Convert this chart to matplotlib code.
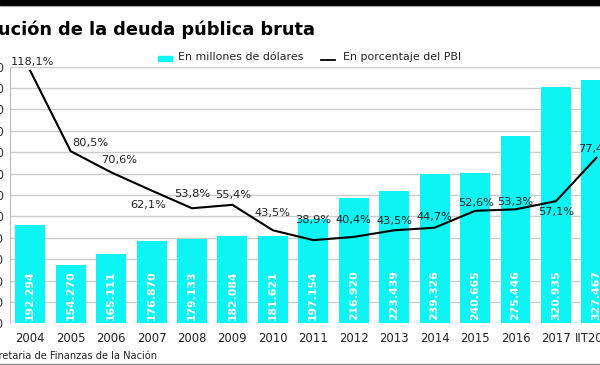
import matplotlib
matplotlib.use("Agg")
import matplotlib.pyplot as plt
from matplotlib.patches import Rectangle
from matplotlib.lines import Line2D
import numpy as np

# datos
anios = ['2004', '2005', '2006', '2007', '2008', '2009', '2010', '2011',
         '2012', '2013', '2014', '2015', '2016', '2017', 'IIT2018']
deuda_millones = [192294, 154270, 165111, 176870, 179133, 182084, 181621, 197154,
                  216920, 223439, 239326, 240665, 275446, 320935, 327467]
deuda_pbi = [118.1, 80.5, 70.6, 62.1, 53.8, 55.4, 43.5, 38.9,
             40.4, 43.5, 44.7, 52.6, 53.3, 57.1, 77.4]

# desplazamiento de cada etiqueta de porcentaje (pixeles)
offsets_pct = [(2, 9), (20, 8), (8, 12), (-3, -14), (0, 14), (1, 10), (0, 17), (0, 20),
               (0, 17), (0, 9), (0, 11), (1, 8), (0, 7), (0, -11), (0, 9)]

CIAN = '#0cf4f4'
W, H = 600, 365

def fmt_miles(v):
    return "{:,}".format(int(v)).replace(",", ".")

def fmt_pct(v):
    return "{:.1f}%".format(v).replace(".", ",")

fig = plt.figure(figsize=(W / 100, H / 100), dpi=100)

# ejes (parte del grafico queda fuera del lienzo, como en el recorte original)
ax = fig.add_axes([10 / W, 1 - 323.3 / H, 606.6 / W, 256.6 / H])
x = np.arange(len(anios))
ax.bar(x, deuda_millones, width=0.74, color=CIAN, zorder=2)
ax.set_xlim(-0.5, len(anios) - 0.5)
ax.set_ylim(100000, 340000)
ax.set_yticks(np.arange(100000, 340001, 20000))
ax.set_yticklabels([fmt_miles(v) for v in ax.get_yticks()])
ax.set_xticks(x)
ax.set_xticklabels(anios)
ax.tick_params(axis='y', length=0, pad=4.3, labelsize=8.4, labelcolor='#333333')
ax.tick_params(axis='x', length=0, pad=6.0, labelsize=8.4, labelcolor='#222222')
ax.grid(axis='y', color='#cccccc', lw=1.0)
ax.set_axisbelow(True)
for s in ['top', 'right', 'bottom']:
    ax.spines[s].set_visible(False)
ax.spines['left'].set_color('#bbbbbb')

for xi, v in zip(x, deuda_millones):
    ax.annotate(fmt_miles(v), (xi, 100000), xytext=(0, 3), textcoords='offset pixels',
                rotation=90, ha='center', va='bottom', color='white',
                fontsize=7.8, fontweight='bold', zorder=3)

# linea del porcentaje del PBI
ax2 = ax.twinx()
ax2.set_ylim(0, 120)
ax2.plot(x, deuda_pbi, color='black', lw=1.5)
ax2.set_yticks([])
for s in ax2.spines.values():
    s.set_visible(False)
for xi, v, (dx, dy) in zip(x, deuda_pbi, offsets_pct):
    ax2.annotate(fmt_pct(v), (xi, v), xytext=(dx, dy), textcoords='offset pixels',
                 ha='center', va='center', fontsize=8.2, color='#222222')

# titulo y fuente
fig.text(315 / W, 1 - 35 / H, 'Evolución de la deuda pública bruta', ha='right',
         va='baseline', fontsize=12.8, fontweight='bold', color='black')
fig.text(157 / W, 1 - 356 / H, 'Fuente: Secretaria de Finanzas de la Nación', ha='right',
         va='center', fontsize=7.1, color='#222222')

# leyenda
fig.add_artist(Rectangle((158 / W, 1 - 60.7 / H), 14 / W, 4.7 / H,
                         transform=fig.transFigure, color=CIAN))
fig.text(178 / W, 1 - 57 / H, 'En millones de dólares', ha='left', va='center',
         fontsize=7.9, color='#222222')
fig.add_artist(Line2D([320.7 / W, 335 / W], [1 - 60.3 / H] * 2,
                      transform=fig.transFigure, color='black', lw=1.3))
fig.text(343 / W, 1 - 57 / H, 'En porcentaje del PBI', ha='left', va='center',
         fontsize=7.9, color='#222222')

# franjas superiores e inferior
fig.add_artist(Rectangle((0, 1 - 4.5 / H), 1, 4.5 / H, transform=fig.transFigure,
                         color='black'))
fig.add_artist(Line2D([0, 1], [1 - 5.5 / H] * 2, transform=fig.transFigure,
                      color='#aaaaaa', lw=0.8))
fig.add_artist(Line2D([0, 1], [1 - 363.5 / H] * 2, transform=fig.transFigure,
                      color='#888888', lw=1.0))

fig.savefig('out.png', dpi=100)
